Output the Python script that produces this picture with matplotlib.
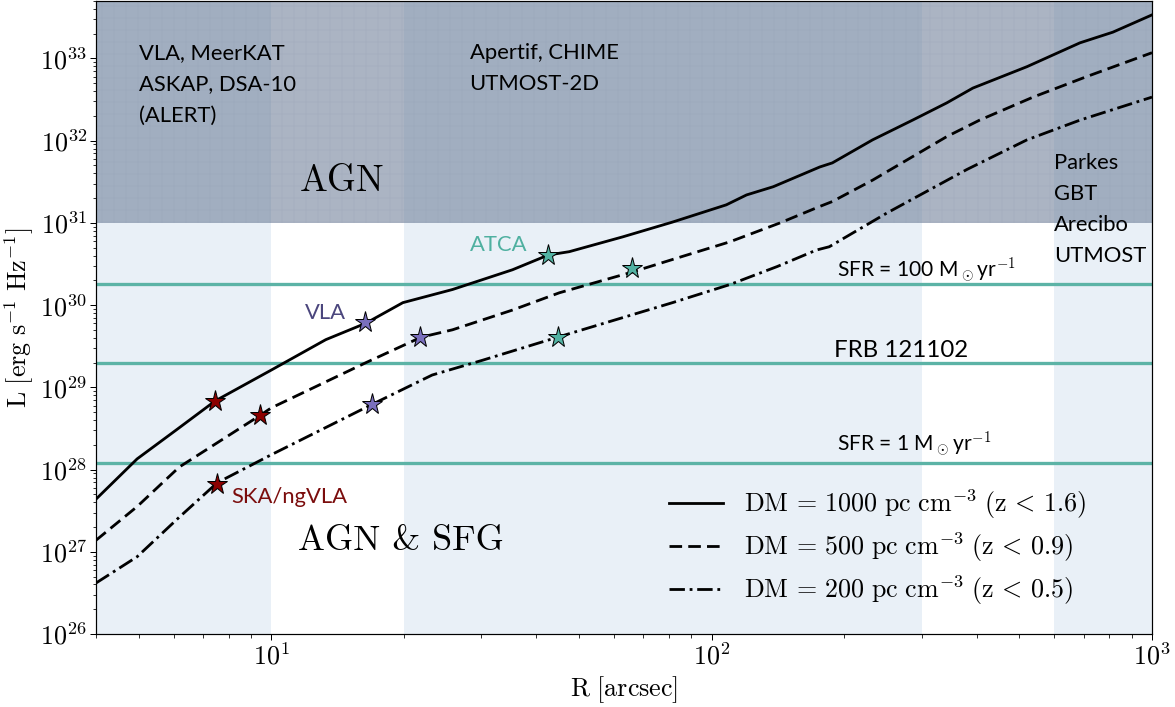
import numpy as np
import matplotlib
matplotlib.use("Agg")
import matplotlib.pyplot as plt
from matplotlib.lines import Line2D

plt.rcParams['mathtext.fontset'] = 'cm'
plt.rcParams['font.family'] = 'serif'
plt.rcParams['font.serif'] = ['cmr10']
plt.rcParams['axes.formatter.use_mathtext'] = True
plt.rcParams['hatch.linewidth'] = 0.5

# ---------------- data ----------------
R_dm1000 = [4.0, 4.96, 6.08, 7.46, 10.0, 13.3, 16.4, 19.9, 25.8, 35.3, 42.6, 47.5, 62.8, 81.5,
            108, 120, 138, 176, 188, 232, 286, 342, 392, 520, 686, 815, 1000]
logL_dm1000 = [27.64, 28.13, 28.48, 28.835, 29.21, 29.58, 29.78, 30.03, 30.19, 30.43, 30.61, 30.65,
               30.83, 31.01, 31.22, 31.34, 31.44, 31.68, 31.73, 32.01, 32.25, 32.46, 32.64, 32.90,
               33.19, 33.32, 33.53]

R_dm500 = [4.0, 4.96, 6.18, 9.44, 10.0, 16.4, 21.9, 25.8, 35.3, 45.1, 65.8, 83.2, 110, 143,
           176, 188, 232, 342, 406, 537, 711, 1000]
logL_dm500 = [27.14, 27.55, 28.03, 28.66, 28.75, 29.30, 29.61, 29.70, 29.94, 30.15, 30.40, 30.57,
              30.77, 31.00, 31.20, 31.26, 31.52, 32.05, 32.25, 32.53, 32.78, 33.07]

R_dm200 = [4.0, 4.96, 6.18, 7.54, 10.0, 16.9, 23.2, 30.2, 44.7, 81.5, 110, 141, 173, 185,
           250, 380, 520, 686, 1000]
logL_dm200 = [26.62, 26.94, 27.42, 27.84, 28.18, 28.79, 29.15, 29.33, 29.61, 30.03, 30.25, 30.47,
              30.67, 30.71, 31.12, 31.65, 32.01, 32.25, 32.53]

curve_labels = [r"$\mathrm{DM}\,=\,1000\ \mathrm{pc\ cm^{-3}}\ \mathrm{(z}\,<\,1.6)$",
                r"$\mathrm{DM}\,=\,500\ \mathrm{pc\ cm^{-3}}\ \mathrm{(z}\,<\,0.9)$",
                r"$\mathrm{DM}\,=\,200\ \mathrm{pc\ cm^{-3}}\ \mathrm{(z}\,<\,0.5)$"]

# telescope stars (one per curve: DM=1000, 500, 200)
ska_R = [7.46, 9.44, 7.54]
ska_L = [6.84e28, 4.6e28, 6.7e27]
vla_R = [16.35, 21.8, 16.9]
vla_L = [6.25e29, 4.1e29, 6.3e28]
atca_R = [42.6, 65.8, 44.7]
atca_L = [4.08e30, 2.84e30, 4.1e29]

# reference luminosity levels
L_sfr100 = 1.8e30
L_frb = 2.0e29
L_sfr1 = 1.2e28
L_agn = 1e31

# telescope bands in R
bands = [(4, 10), (20, 300), (600, 1000)]

# ---------------- figure ----------------
DPI = 72
fig = plt.figure(figsize=(1175 / DPI, 707 / DPI), dpi=DPI)
ax = fig.add_axes([96 / 1175, 1 - 634 / 707, (1152 - 96) / 1175, 633 / 707])
ax.set_xscale('log')
ax.set_yscale('log')
ax.set_xlim(4, 1000)
ax.set_ylim(1e26, 5e33)

for a, b in bands:
    ax.axvspan(a, b, color='#e9f0f7', lw=0, zorder=0)
ax.axhspan(L_agn, 5e33, facecolor='#6e7f99', alpha=0.58, lw=0, zorder=0.5)
ax.axhspan(L_agn, 5e33, facecolor='none', edgecolor='#8f9bb0', hatch='+', lw=0, alpha=0.35, zorder=0.6)

teal = '#5cb3a6'
for lev in (L_sfr100, L_frb, L_sfr1):
    ax.axhline(lev, color=teal, lw=3.3, zorder=2)

ax.plot(R_dm1000, 10 ** np.array(logL_dm1000), color='k', lw=2.8, ls='-', zorder=3)
ax.plot(R_dm500, 10 ** np.array(logL_dm500), color='k', lw=2.8, ls=(0, (4.5, 2.2)), zorder=3)
ax.plot(R_dm200, 10 ** np.array(logL_dm200), color='k', lw=2.8, ls=(0, (5.5, 1.7, 1, 1.7)), zorder=3)

star_kw = dict(marker='*', ms=22, mec='k', mew=1.0, ls='none', zorder=4)
ax.plot(ska_R, ska_L, mfc='#8b0000', **star_kw)
ax.plot(vla_R, vla_L, mfc='#7a6fbd', **star_kw)
ax.plot(atca_R, atca_L, mfc='#52b2a3', **star_kw)

sans = ['Lato', 'DejaVu Sans']
tfs = 22
ax.text(5.0, 1.55e33, "VLA, MeerKAT\nASKAP, DSA-10\n(ALERT)", family=sans, fontsize=tfs,
        va='top', ha='left', linespacing=1.72, zorder=5)
ax.text(28.2, 1.55e33, "Apertif, CHIME\nUTMOST-2D", family=sans, fontsize=tfs,
        va='top', ha='left', linespacing=1.72, zorder=5)
ax.text(600, 7.1e31, "Parkes\nGBT\nArecibo\nUTMOST", family=sans, fontsize=tfs,
        va='top', ha='left', linespacing=1.68, zorder=5)
ax.text(11.6, 3.2e31, "AGN", fontsize=37, va='center', ha='left', zorder=5)
ax.text(11.5, 1.35e27, "AGN & SFG", fontsize=36, va='center', ha='left', zorder=5)
ax.text(28.2, 5.4e30, "ATCA", family=sans, fontsize=tfs, color='#4fb0a0', va='center', ha='left', zorder=5)
ax.text(11.9, 8.0e29, "VLA", family=sans, fontsize=tfs, color='#4b467d', va='center', ha='left', zorder=5)
ax.text(8.11, 4.6e27, "SKA/ngVLA", family=sans, fontsize=tfs, color='#7b0d0d', va='center', ha='left', zorder=5)
ax.text(193, 2.2e30, r"SFR = 100 M$_\odot$yr$^{-1}$", family=sans, fontsize=21, va='baseline', ha='left', zorder=5)
ax.text(190, 2.37e29, "FRB 121102", family=sans, fontsize=24, va='baseline', ha='left', zorder=5)
ax.text(193, 1.65e28, r"SFR = 1 M$_\odot$yr$^{-1}$", family=sans, fontsize=21, va='baseline', ha='left', zorder=5)

handles = [Line2D([], [], color='k', lw=2.8, ls='-'),
           Line2D([], [], color='k', lw=2.8, ls=(0, (4.5, 2.2))),
           Line2D([], [], color='k', lw=2.8, ls=(0, (5.5, 1.7, 1, 1.7)))]
ax.legend(handles, curve_labels, loc='lower right', bbox_to_anchor=(0.96, 0.006), frameon=False,
          fontsize=26, handlelength=2.1, handletextpad=0.8, labelspacing=0.35)

ax.set_xlabel(r"$\mathrm{R\ [arcsec]}$", fontsize=26, labelpad=4)
ax.set_ylabel(r"$\mathrm{L\ [erg\ s^{-1}\ Hz^{-1}]}$", fontsize=26, labelpad=4)
ax.tick_params(axis='both', which='major', labelsize=26, length=6, width=1, pad=3)
ax.tick_params(axis='both', which='minor', length=3.5, width=0.8)
for s in ax.spines.values():
    s.set_linewidth(1.2)

fig.savefig("out.png", dpi=DPI)
